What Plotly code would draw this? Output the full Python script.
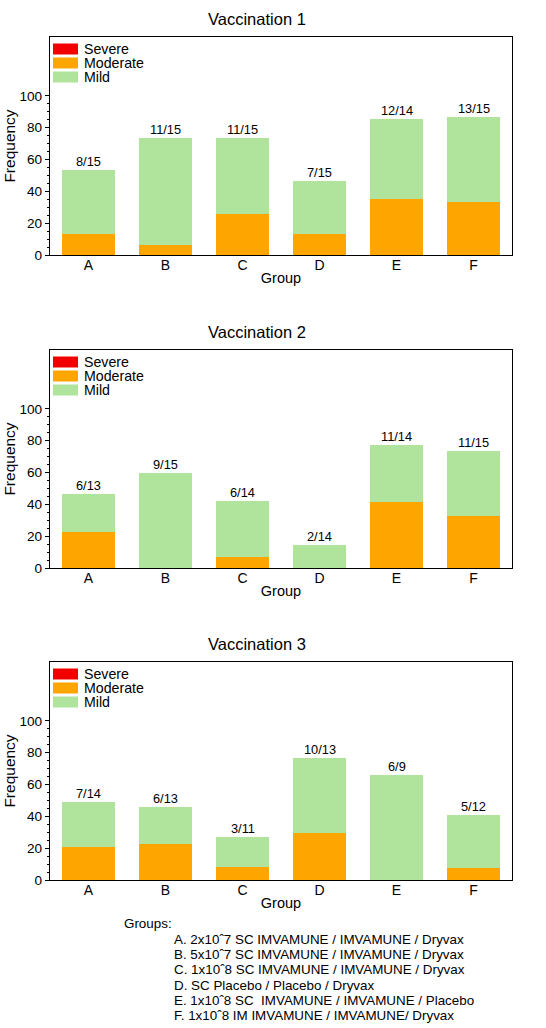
import plotly.graph_objects as go

W, H = 546, 1028

groups = ["A", "B", "C", "D", "E", "F"]

# Vaccination 1
severe1 = [0, 0, 0, 0, 0, 0]
moderate1 = [13.3, 6.3, 26.0, 13.3, 35.4, 33.1]
mild1 = [40.2, 67.0, 47.3, 33.2, 49.8, 53.4]
labels1 = ["8/15", "11/15", "11/15", "7/15", "12/14", "13/15"]

# Vaccination 2
severe2 = [0, 0, 0, 0, 0, 0]
moderate2 = [22.6, 0, 6.7, 0, 41.5, 32.7]
mild2 = [23.7, 60.0, 35.3, 14.2, 35.6, 40.6]
labels2 = ["6/13", "9/15", "6/14", "2/14", "11/14", "11/15"]

# Vaccination 3
severe3 = [0, 0, 0, 0, 0, 0]
moderate3 = [21.0, 22.7, 8.3, 29.8, 0, 7.6]
mild3 = [27.9, 23.0, 18.6, 46.7, 66.2, 33.3]
labels3 = ["7/14", "6/13", "3/11", "10/13", "6/9", "5/12"]

titles = ["Vaccination 1", "Vaccination 2", "Vaccination 3"]
series_names = ["Severe", "Moderate", "Mild"]

footnote_title = "Groups:"
footnote_lines = [
    "A. 2x10ˆ7 SC IMVAMUNE / IMVAMUNE / Dryvax",
    "B. 5x10ˆ7 SC IMVAMUNE / IMVAMUNE / Dryvax",
    "C. 1x10ˆ8 SC IMVAMUNE / IMVAMUNE / Dryvax",
    "D. SC Placebo / Placebo / Dryvax",
    "E. 1x10ˆ8 SC &nbsp;IMVAMUNE / IMVAMUNE / Placebo",
    "F. 1x10ˆ8 IM IMVAMUNE / IMVAMUNE/ Dryvax",
]

RED = "#F20000"
ORANGE = "#FFA500"
GREEN = "rgb(176,227,155)"
FONT = "Arial, 'Liberation Sans', sans-serif"

# panel pixel geometry (top, bottom) of plot area
panels_px = [(37, 255), (350, 568), (662, 880)]
X0, X1 = 50, 512

def px(x):
    return x / W

def py(y):
    return 1 - y / H

data = [
    (severe1, moderate1, mild1, labels1),
    (severe2, moderate2, mild2, labels2),
    (severe3, moderate3, mild3, labels3),
]

fig = go.Figure()
annotations = []
shapes = []

for i, (sev, mod, mil, labs) in enumerate(data):
    n = "" if i == 0 else str(i + 1)
    xa, ya = "x" + n, "y" + n
    top, bot = panels_px[i]
    fig.add_trace(go.Bar(x=groups, y=mod, xaxis=xa, yaxis=ya, width=0.68,
                         marker=dict(color=ORANGE, line=dict(width=0)),
                         name="Moderate", showlegend=False, hoverinfo="skip"))
    fig.add_trace(go.Bar(x=groups, y=mil, xaxis=xa, yaxis=ya, width=0.68,
                         marker=dict(color=GREEN, line=dict(width=0)),
                         name="Mild", showlegend=False, hoverinfo="skip"))
    fig.add_trace(go.Bar(x=groups, y=sev, xaxis=xa, yaxis=ya, width=0.68,
                         marker=dict(color=RED, line=dict(width=0)),
                         name="Severe", showlegend=False, hoverinfo="skip"))

    fig.layout["xaxis" + n] = dict(
        domain=[px(X0), px(X1)], anchor=ya, range=[-0.5, 5.5],
        showline=True, mirror=True, linecolor="black", linewidth=1.3,
        ticks="", ticklabelstandoff=-3,
        tickfont=dict(size=14, color="black", family=FONT),
        showgrid=False, zeroline=False, automargin=False,
        title=dict(text="Group", font=dict(size=14.5, color="black", family=FONT), standoff=0),
    )
    fig.layout["yaxis" + n] = dict(
        domain=[py(bot), py(top)], anchor=xa, range=[0, 137],
        showline=True, mirror=True, linecolor="black", linewidth=1.3,
        tickmode="array", tickvals=[0, 20, 40, 60, 80, 100],
        ticks="outside", ticklen=4, tickwidth=1, tickcolor="black",
        minor=dict(tickmode="array", tickvals=[v for v in range(5, 100, 5) if v % 20],
                   ticks="outside", ticklen=2, tickcolor="black", tickwidth=1),
        tickfont=dict(size=13.6, color="black", family=FONT),
        showgrid=False, zeroline=False, automargin=False,
        title=dict(text="Frequency", font=dict(size=15.5, color="black", family=FONT), standoff=0),
    )

    # value labels above bars
    for g, m, l, s, lab in zip(groups, mod, mil, sev, labs):
        annotations.append(dict(x=g, y=m + l + s, xref=xa, yref=ya, text=lab,
                                showarrow=False, yanchor="bottom", yshift=-1,
                                font=dict(size=12.8, color="black", family=FONT)))

    # title
    annotations.append(dict(x=px(257), y=py(top - 18), xref="paper", yref="paper",
                            text=titles[i], showarrow=False, xanchor="center", yanchor="middle",
                            font=dict(size=16.5, color="black", family=FONT)))

    # legend (inside, top-left)
    for k, (nm, col) in enumerate(zip(series_names, [RED, ORANGE, GREEN])):
        yc = top + 12 + 14 * k
        shapes.append(dict(type="rect", xref="paper", yref="paper",
                           x0=px(53), x1=px(78), y0=py(yc - 5.5), y1=py(yc + 5.5),
                           fillcolor=col, line=dict(width=0)))
        annotations.append(dict(x=px(82), y=py(yc), xref="paper", yref="paper",
                                text=nm, showarrow=False, xanchor="left", yanchor="middle",
                                font=dict(size=14.2, color="black", family=FONT)))

# footnote
annotations.append(dict(x=px(122), y=py(923), xref="paper", yref="paper",
                        text=footnote_title, showarrow=False, xanchor="left", yanchor="middle",
                        font=dict(size=13.4, color="black", family=FONT)))
for j, line in enumerate(footnote_lines):
    annotations.append(dict(x=px(172), y=py(939.3 + 15.3 * j), xref="paper", yref="paper",
                            text=line, showarrow=False, xanchor="left", yanchor="middle",
                            font=dict(size=13.4, color="black", family=FONT)))

fig.update_layout(
    width=W, height=H, barmode="stack", bargap=0.32,
    margin=dict(l=0, r=0, t=0, b=0),
    plot_bgcolor="white", paper_bgcolor="white",
    showlegend=False, annotations=annotations, shapes=shapes,
    font=dict(family=FONT, color="black"),
)

fig.write_html("out.html", config={"displayModeBar": False},
               post_script="document.body.style.margin='0';document.body.style.overflow='hidden';")
